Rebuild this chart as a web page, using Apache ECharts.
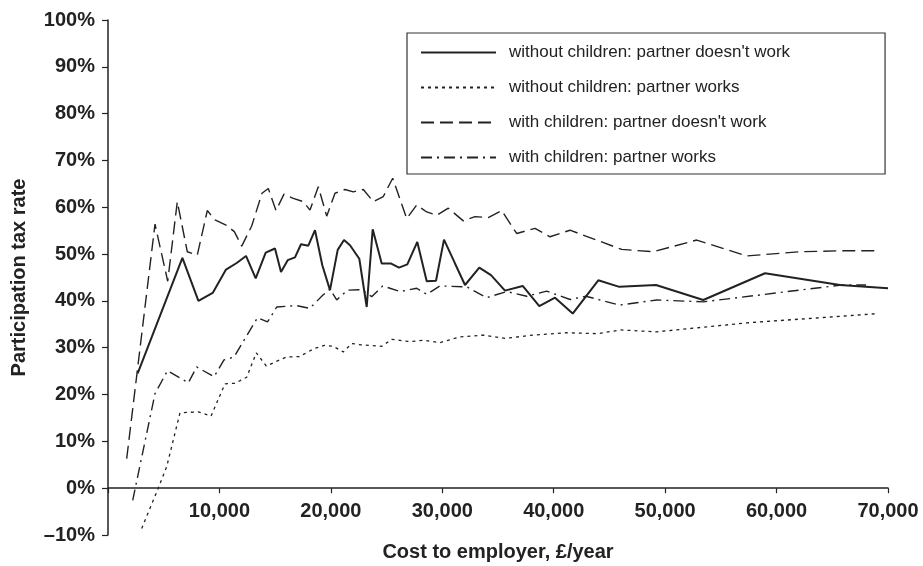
<!DOCTYPE html>
<html>
<head>
<meta charset="utf-8">
<script src="https://cdn.jsdelivr.net/npm/echarts@6/dist/echarts.min.js"></script>
<style>
html,body{margin:0;padding:0;background:#fff;}
#chart{width:923px;height:566px;}
</style>
</head>
<body>
<div id="chart"></div>
<script>
// Series names
var seriesNames = [
  "without children: partner doesn't work",
  "without children: partner works",
  "with children: partner doesn't work",
  "with children: partner works"
];

// without children: partner doesn't work
var noKidsNoWorkX = [2665,6677,8113,9396,10590,11550,12385,13255,14153,14987,15526,16127,16782,17321,17976,18577,19232,19923,20614,21180,21718,22552,23217,23755,24563,25370,26116,26861,27758,28602,29436,30154,31141,32039,33322,34372,35628,37217,38706,40115,41704,44001,45886,49180,53424,58962,65693,70000];
var noKidsNoWorkY = [24.5,49.2,40.0,41.7,46.7,48.1,49.6,44.8,50.3,51.2,46.2,48.7,49.3,52.1,51.8,55.1,47.6,42.3,50.9,53.0,51.9,49.0,38.7,55.3,48.0,48.0,47.1,47.8,52.6,44.2,44.3,53.1,48.0,43.4,47.1,45.5,42.2,43.2,38.9,40.7,37.3,44.4,43.0,43.4,40.2,45.9,43.4,42.7];

// without children: partner works
var noKidsWorkX = [3024,4514,5268,6462,8104,9244,10500,11397,12448,13309,14206,15974,17168,18487,19430,20220,21117,21871,22768,24563,25460,27103,28296,29795,31590,33681,35628,38167,41165,44001,45947,49241,57318,69130];
var noKidsWorkY = [-8.6,0.0,4.6,16.1,16.3,15.4,22.3,22.4,23.7,28.9,26.1,28.0,28.1,29.8,30.5,30.3,29.1,30.9,30.6,30.3,31.8,31.3,31.6,31.1,32.3,32.7,32.0,32.7,33.2,33.0,33.8,33.4,35.3,37.3];

// with children: partner doesn't work
var kidsNoWorkX = [1678,4218,5358,6219,7117,8014,8912,9603,10590,11335,11999,12896,13820,14386,15077,15795,16629,17527,18128,18873,19627,20372,21269,22014,22912,23809,24707,25550,26807,27704,28602,29500,30540,31886,32936,34130,35332,36678,38320,39667,41462,46101,48937,52832,57318,62101,65693,68834];
var kidsNoWorkY = [6.3,56.4,44.2,61.2,50.5,49.8,59.3,57.3,56.2,54.8,51.7,56.0,63.0,64.0,59.3,62.8,61.9,61.2,59.4,64.4,58.1,63.0,63.8,63.3,63.8,61.2,62.3,66.2,57.6,60.5,59.0,58.3,59.8,57.1,58.0,57.8,59.3,54.4,55.5,53.7,55.1,51.0,50.5,53.0,49.6,50.5,50.7,50.7];

// with children: partner works
var kidsWorkX = [2217,4218,5340,7206,7960,9513,10410,11308,12385,13416,14314,15140,16935,18101,19268,19923,20524,21493,22768,23665,24652,26205,27704,28602,29795,32191,33986,35780,37575,39370,41462,42898,45886,49241,53424,65845,68026];
var kidsWorkY = [-2.6,20.2,25.1,22.5,25.9,23.8,27.4,28.0,32.3,36.4,35.5,38.7,39.0,38.4,41.2,42.5,40.2,42.3,42.4,40.9,43.2,42.0,42.7,41.4,43.2,43.0,40.7,42.0,41.0,42.1,40.3,41.0,39.1,40.2,39.8,43.4,43.4];

var xTicks = {min: 0, max: 70000, interval: 10000};
var yTicks = {min: -10, max: 100, interval: 10};

function zip(xs, ys) { return xs.map(function (x, i) { return [x, ys[i]]; }); }

var ink = '#222';
var font = 'Liberation Sans, Arial, Helvetica, sans-serif';

var chart = echarts.init(document.getElementById('chart'), null, {renderer: 'canvas'});
chart.setOption({
  animation: false,
  backgroundColor: '#fff',
  grid: {left: 108, right: 35, top: 20, bottom: 31, containLabel: false, outerBoundsMode: 'none'},
  legend: {
    orient: 'vertical',
    left: 407,
    top: 33,
    padding: [11, 95, 8, 13],
    itemWidth: 75,
    itemHeight: 14,
    itemGap: 18,
    borderColor: '#333',
    borderWidth: 1.2,
    backgroundColor: '#fff',
    itemStyle: {opacity: 0, color: 'transparent', borderWidth: 0},
    textStyle: {fontFamily: font, fontSize: 17, color: ink, padding: [0, 0, 0, 8]},
    data: seriesNames
  },
  xAxis: {
    type: 'value',
    min: xTicks.min, max: xTicks.max, interval: xTicks.interval,
    name: 'Cost to employer, \u00a3/year',
    nameLocation: 'middle',
    nameGap: 7,
    nameTextStyle: {fontFamily: font, fontSize: 20, fontWeight: 'bold', color: ink},
    axisLine: {onZero: true, lineStyle: {color: ink, width: 1.5}},
    axisTick: {show: true, inside: false, length: 5, lineStyle: {color: ink, width: 1.2}},
    axisLabel: {
      fontFamily: font, fontSize: 20, fontWeight: 'bold', color: ink, margin: -34,
      formatter: function (v) { return v === 0 ? '' : v.toLocaleString('en-GB'); }
    },
    splitLine: {show: false}
  },
  yAxis: {
    type: 'value',
    min: yTicks.min, max: yTicks.max, interval: yTicks.interval,
    name: 'Participation tax rate',
    nameLocation: 'middle',
    nameGap: 79,
    nameRotate: 90,
    nameTextStyle: {fontFamily: font, fontSize: 20, fontWeight: 'bold', color: ink},
    axisLine: {show: true, onZero: false, lineStyle: {color: ink, width: 1.5}},
    axisTick: {show: true, inside: false, length: 6, lineStyle: {color: ink, width: 1.2}},
    axisLabel: {
      fontFamily: font, fontSize: 20, fontWeight: 'bold', color: ink, margin: 13,
      formatter: function (v) { return (v < 0 ? '\u2013' + Math.abs(v) : v) + '%'; }
    },
    splitLine: {show: false}
  },
  series: [
    {name: seriesNames[0], type: 'line', data: zip(noKidsNoWorkX, noKidsNoWorkY), symbol: 'none',
     lineStyle: {color: ink, width: 2, type: 'solid'}, itemStyle: {color: ink}, z: 5},
    {name: seriesNames[1], type: 'line', data: zip(noKidsWorkX, noKidsWorkY), symbol: 'none',
     lineStyle: {color: ink, width: 1.3, type: [3, 4]}, itemStyle: {color: ink}},
    {name: seriesNames[2], type: 'line', data: zip(kidsNoWorkX, kidsNoWorkY), symbol: 'none',
     lineStyle: {color: ink, width: 1.4, type: [13, 6]}, itemStyle: {color: ink}},
    {name: seriesNames[3], type: 'line', data: zip(kidsWorkX, kidsWorkY), symbol: 'none',
     lineStyle: {color: ink, width: 1.4, type: [11, 5, 2, 5]}, itemStyle: {color: ink}}
  ]
});
</script>
</body>
</html>
